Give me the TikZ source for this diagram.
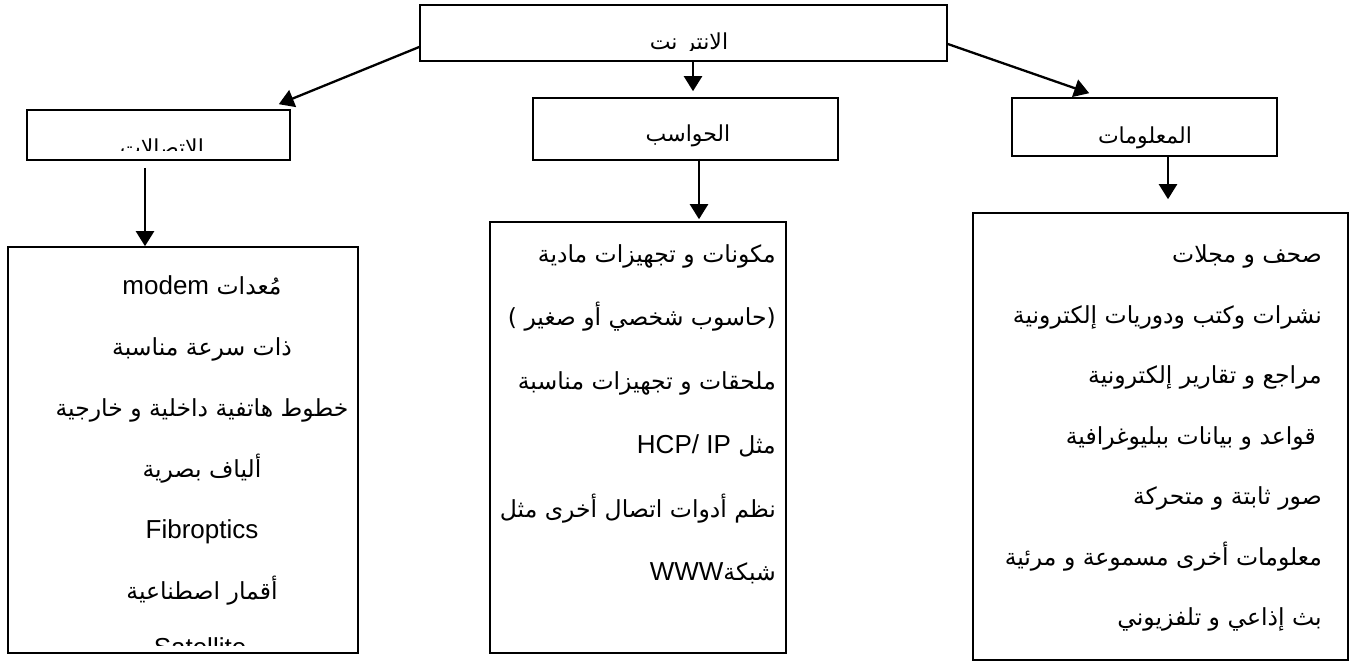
\documentclass[tikz,border=0pt]{standalone}
\usepackage{fontspec}
\setmainfont{Liberation Sans}
\newfontfamily\arabicfont[Script=Arabic]{DejaVu Sans}
\TeXXeTstate=1
\usetikzlibrary{arrows.meta}

% one right-to-left line, and a left-to-right run inside it
\newcommand\rtline[1]{\beginR#1\endR}
\newcommand\latrun[1]{\beginL{\rmfamily\fontsize{26}{30}\selectfont #1}\endL}

\tikzset{
  frame/.style={draw, line width=1.6pt, inner sep=0pt},
  arr/.style={line width=2.3pt, -{Triangle[width=18pt,length=15pt]}},
  titletxt/.style={inner sep=0pt, font=\arabicfont\fontsize{22}{26}\selectfont},
  bodytxt/.style={inner sep=0pt, font=\arabicfont\fontsize{23.5}{28}\selectfont},
  lattxt/.style={inner sep=0pt, font=\rmfamily\fontsize{26}{30}\selectfont},
}

\begin{document}
\begin{tikzpicture}[x=1pt,y=-1pt]
\useasboundingbox (0,0) rectangle (1351,661);
\fill[white] (0,0) rectangle (1351,661);

% boxes
\node[frame, minimum width=527pt, minimum height=56pt] (net)  at (683.5,33) {};
\node[frame, minimum width=263pt, minimum height=50pt] (tcom) at (158.5,135) {};
\node[frame, minimum width=305pt, minimum height=62pt] (tpc)  at (685.5,129) {};
\node[frame, minimum width=265pt, minimum height=58pt] (tinf) at (1144.5,127) {};
\node[frame, minimum width=350pt, minimum height=406pt] (bcom) at (183,450) {};
\node[frame, minimum width=296pt, minimum height=431pt] (bpc)  at (638,437.5) {};
\node[frame, minimum width=375pt, minimum height=447pt] (binf) at (1160.5,436.5) {};

% titles
\begin{scope}
  \clip (420,5) rectangle (947,50.5);
  \node[titletxt, anchor=base] (netlbl) at (689,50) {\rtline{الانتر نت}};
\end{scope}
\begin{scope}
  \clip (27,110) rectangle (290,150);
  \node[titletxt, anchor=base] (tcomlbl) at (162,155) {\rtline{الاتصالات}};
\end{scope}
\node[titletxt, anchor=base] (tpclbl)  at (688,141) {\rtline{الحواسب}};
\node[titletxt, anchor=base] (tinflbl) at (1145,143) {\rtline{المعلومات}};

% connectors
\draw[arr] ([yshift=-14pt]net.west) -- ([xshift=-12pt,yshift=5pt]tcom.north east);
\draw[arr] ([xshift=9.5pt]net.south) -- ([xshift=7.5pt,yshift=6pt]tpc.north);
\draw[arr] ([yshift=-11pt]net.east) -- ([xshift=78pt,yshift=4pt]tinf.north west);
\draw[arr] ([xshift=-13.5pt,yshift=-7pt]tcom.south) -- ([xshift=-13.5pt]tcom.south |- bcom.north);
\draw[arr] ([xshift=13.5pt,yshift=2pt]tpc.south) -- ([xshift=13.5pt,yshift=2pt]tpc.south |- bpc.north);
\draw[arr] ([xshift=23.5pt]tinf.south) -- ([xshift=23.5pt,yshift=13pt]tinf.south |- binf.north);

% communications list
\node[bodytxt, anchor=base] (c1) at (202,294) {\rtline{مُعدات \latrun{modem}}};
\node[bodytxt, anchor=base] (c2) at (202,355) {\rtline{ذات سرعة مناسبة}};
\node[bodytxt, anchor=base] (c3) at (202,416) {\rtline{خطوط هاتفية داخلية و خارجية}};
\node[bodytxt, anchor=base] (c4) at (202,477) {\rtline{ألياف بصرية}};
\node[lattxt, anchor=base]  (c5) at (202,538) {Fibroptics};
\node[bodytxt, anchor=base] (c6) at (202,599) {\rtline{أقمار اصطناعية}};
\begin{scope}
  \clip (8,247) rectangle (358,645);
  \node[lattxt, anchor=base] (c7) at (200,656) {Satellite};
\end{scope}

% computers list
\node[bodytxt, anchor=base east] (p1) at (776,262) {\rtline{مكونات و تجهيزات مادية}};
\node[bodytxt, anchor=base east] (p2) at (776,325) {\rtline{(حاسوب شخصي أو صغير )}};
\node[bodytxt, anchor=base east] (p3) at (776,389) {\rtline{ملحقات و تجهيزات مناسبة}};
\node[bodytxt, anchor=base east] (p4) at (776,453) {\rtline{مثل \latrun{HCP/ IP}}};
\node[bodytxt, anchor=base east] (p5) at (776,517) {\rtline{نظم أدوات اتصال أخرى مثل}};
\node[bodytxt, anchor=base east] (p6) at (776,580) {\rtline{شبكة\latrun{WWW}}};

% information list
\node[bodytxt, anchor=base east] (i1) at (1322,262) {\rtline{صحف و مجلات}};
\node[bodytxt, anchor=base east] (i2) at (1322,323) {\rtline{نشرات وكتب ودوريات إلكترونية}};
\node[bodytxt, anchor=base east] (i3) at (1322,383) {\rtline{مراجع و تقارير إلكترونية}};
\node[bodytxt, anchor=base east] (i4) at (1316,444) {\rtline{قواعد و بيانات ببليوغرافية}};
\node[bodytxt, anchor=base east] (i5) at (1322,504) {\rtline{صور ثابتة و متحركة}};
\node[bodytxt, anchor=base east] (i6) at (1322,565) {\rtline{معلومات أخرى مسموعة و مرئية}};
\node[bodytxt, anchor=base east] (i7) at (1322,625) {\rtline{بث إذاعي و تلفزيوني}};
\end{tikzpicture}
\end{document}
